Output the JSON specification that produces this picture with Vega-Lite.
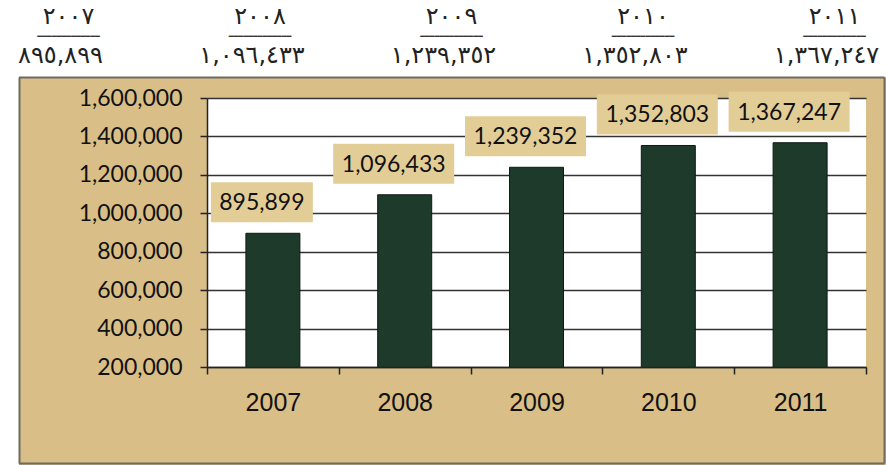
{
  "$schema": "https://vega.github.io/schema/vega-lite/v6.json",
  "width": 659,
  "height": 269,
  "autosize": {"type": "none"},
  "padding": {"left": 207, "top": 98, "right": 20, "bottom": 98},
  "background": "#d9bf87",
  "config": {"view": {"stroke": null, "fill": "white"}},
  "data": {
    "values": [
      {"year": "2007", "value": 895899, "yearAr": "٢٠٠٧", "valueAr": "٨٩٥,٨٩٩"},
      {"year": "2008", "value": 1096433, "yearAr": "٢٠٠٨", "valueAr": "١,٠٩٦,٤٣٣"},
      {"year": "2009", "value": 1239352, "yearAr": "٢٠٠٩", "valueAr": "١,٢٣٩,٣٥٢"},
      {"year": "2010", "value": 1352803, "yearAr": "٢٠١٠", "valueAr": "١,٣٥٢,٨٠٣"},
      {"year": "2011", "value": 1367247, "yearAr": "٢٠١١", "valueAr": "١,٣٦٧,٢٤٧"}
    ]
  },
  "resolve": {
    "scale": {"x": "independent", "y": "independent"},
    "axis": {"x": "independent", "y": "independent"}
  },
  "layer": [
    {
      "mark": {"type": "point", "opacity": 0},
      "encoding": {
        "x": {"field": "year", "type": "nominal", "sort": null,
              "scale": {"range": [-235, 723]},
              "axis": {"orient": "top", "offset": 60, "domainColor": "white", "domainWidth": 77, "labels": false, "ticks": false, "grid": false, "title": null, "zindex": 0}},
        "y": {"field": "value", "type": "quantitative",
              "scale": {"domain": [200000, 1600000], "range": [367, -98], "zero": false, "nice": false},
              "axis": {"orient": "left", "offset": 198, "domainColor": "white", "domainWidth": 19, "labels": false, "ticks": false, "grid": false, "title": null, "zindex": 0}}
      }
    },
    {
      "mark": {"type": "point", "opacity": 0},
      "encoding": {
        "x": {"field": "year", "type": "nominal", "sort": null,
              "scale": {"range": [-189, 677]},
              "axis": {"orient": "top", "offset": 21, "domainColor": "#6e6a62", "domainWidth": 2, "labels": false, "ticks": false, "grid": false, "title": null, "zindex": 0}},
        "y": {"field": "value", "type": "quantitative",
              "scale": {"domain": [200000, 1600000], "range": [365, -21], "zero": false, "nice": false},
              "axis": {"orient": "left", "offset": 188, "domainColor": "#6e6a62", "domainWidth": 2, "labels": false, "ticks": false, "grid": false, "title": null, "zindex": 0}}
      }
    },
    {
      "mark": {"type": "point", "opacity": 0},
      "encoding": {
        "x": {"field": "year", "type": "nominal", "sort": null,
              "scale": {"range": [-189, 677]},
              "axis": {"orient": "bottom", "offset": 96, "domainColor": "#6e6a62", "domainWidth": 2, "labels": false, "ticks": false, "grid": false, "title": null, "zindex": 0}},
        "y": {"field": "value", "type": "quantitative",
              "scale": {"domain": [200000, 1600000], "range": [365, -21], "zero": false, "nice": false},
              "axis": {"orient": "right", "offset": 18, "domainColor": "#6e6a62", "domainWidth": 2, "labels": false, "ticks": false, "grid": false, "title": null, "zindex": 0}}
      }
    },
    {
      "mark": {"type": "point", "opacity": 0},
      "encoding": {
        "x": {"field": "yearAr", "type": "nominal", "sort": null,
              "scale": {"range": [-234.75, 722.75]},
              "axis": {"orient": "top", "offset": 82, "domain": false, "ticks": false, "tickSize": 0, "labelPadding": 0, "grid": false, "title": null,
                       "labelAngle": 0, "labelBaseline": "middle", "labelFont": "DejaVu Sans", "labelFontSize": 24, "labelColor": "#222222", "labelOverlap": false, "labelBound": false, "zindex": 1}}
      }
    },
    {
      "mark": {"type": "point", "opacity": 0},
      "encoding": {
        "x": {"field": "yearAr", "type": "nominal", "sort": null,
              "scale": {"range": [-234.75, 722.75]},
              "axis": {"orient": "top", "offset": 62, "domain": false, "ticks": false, "tickSize": 0, "labelPadding": 0, "grid": false, "title": null,
                       "labelExpr": "'━━━━━━━━━━━━━'", "labelAngle": 0, "labelBaseline": "middle", "labelFont": "DejaVu Sans", "labelFontSize": 8, "labelColor": "#333333", "labelOverlap": false, "labelBound": false, "zindex": 1}}
      }
    },
    {
      "mark": {"type": "point", "opacity": 0},
      "encoding": {
        "x": {"field": "valueAr", "type": "nominal", "sort": null,
              "scale": {"range": [-242.75, 714.75]},
              "axis": {"orient": "top", "offset": 43, "domain": false, "ticks": false, "tickSize": 0, "labelPadding": 0, "grid": false, "title": null,
                       "labelAngle": 0, "labelBaseline": "middle", "labelFont": "DejaVu Sans", "labelFontSize": 24, "labelColor": "#222222", "labelOverlap": false, "labelBound": false, "zindex": 1}}
      }
    },
    {
      "encoding": {
        "x": {"field": "year", "type": "nominal", "sort": null,
              "scale": {"paddingInner": 0, "paddingOuter": 0},
              "axis": {"orient": "bottom", "title": null, "labelAngle": 0, "domainColor": "#222222", "domainWidth": 1.5,
                       "tickColor": "#222222", "tickWidth": 1.5, "tickSize": 7, "tickBand": "extent", "labelPadding": 16,
                       "labelFont": "Liberation Sans", "labelFontSize": 25, "labelColor": "#111111", "grid": false, "zindex": 1}},
        "y": {"field": "value", "type": "quantitative",
              "scale": {"domain": [200000, 1600000], "zero": false, "nice": false},
              "axis": {"orient": "left", "title": null, "values": [200000, 400000, 600000, 800000, 1000000, 1200000, 1400000, 1600000],
                       "format": ",.0f", "domainColor": "#222222", "domainWidth": 1.5, "tickColor": "#222222", "tickWidth": 1.5, "tickSize": 7,
                       "labelPadding": 18, "labelFont": "Lato", "labelFontSize": 23, "labelColor": "#111111",
                       "grid": true, "gridColor": "#333333", "gridWidth": 1.5}}
      },
      "layer": [
        {"mark": {"type": "bar", "width": 54, "clip": true, "color": "#1e3a2b", "stroke": "#0e1a13", "strokeWidth": 1}},
        {"transform": [{"filter": "datum.year == '2007'"}],
         "mark": {"type": "point", "shape": "M -2.067 -1.7 L 1.333 -1.7 L 1.333 -0.367 L -2.067 -0.367 Z", "size": 3600, "filled": true, "fill": "#e3cd97", "opacity": 1, "strokeWidth": 0}},
        {"transform": [{"filter": "datum.year != '2007'"}],
         "mark": {"type": "point", "shape": "M -2.383 -1.7 L 1.65 -1.7 L 1.65 -0.367 L -2.383 -0.367 Z", "size": 3600, "filled": true, "fill": "#e3cd97", "opacity": 1, "strokeWidth": 0}},
        {"mark": {"type": "text", "dx": -11, "dy": -30, "font": "Lato", "fontSize": 23, "color": "#111111", "baseline": "middle"},
         "encoding": {"text": {"field": "value", "type": "quantitative", "format": ","}}}
      ]
    }
  ]
}
